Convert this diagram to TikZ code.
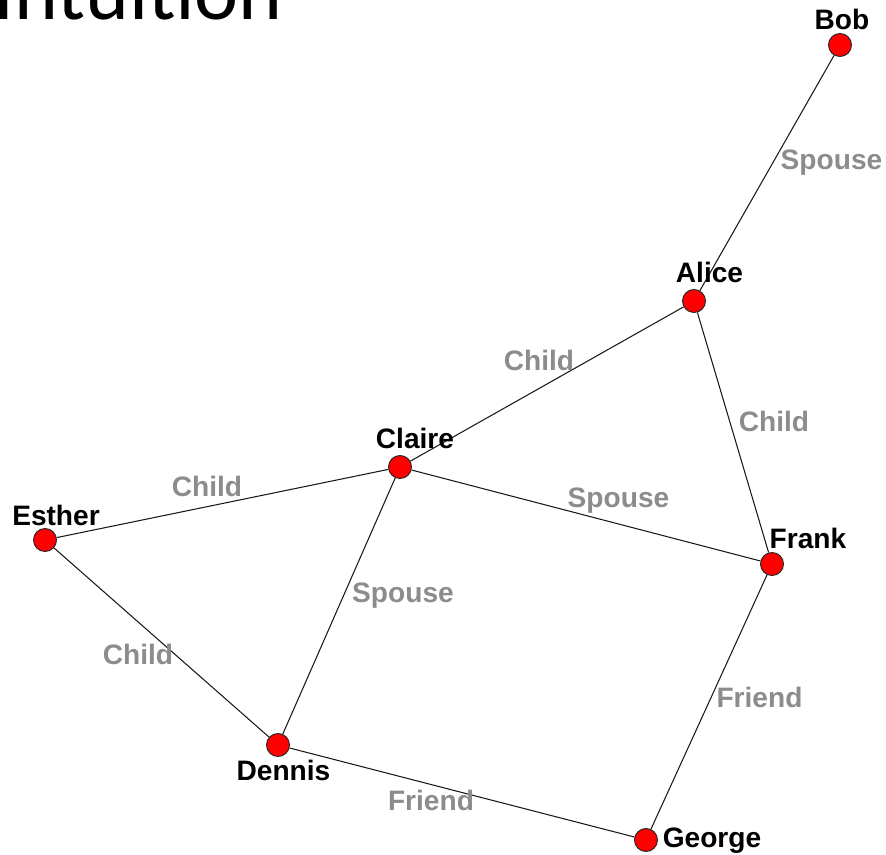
\documentclass[tikz,border=0pt]{standalone}
\usepackage{fontspec}
\setmainfont{Liberation Sans}
\newfontfamily\titlefont{Carlito}
\usetikzlibrary{positioning}

\definecolor{nodered}{RGB}{255,0,0}
\definecolor{relgray}{RGB}{140,140,140}

\begin{document}
\begin{tikzpicture}[x=0.02cm, y=-0.02cm,
    person/.style={circle, draw=black!85, fill=nodered, line width=0.55pt,
                   minimum size=0.46cm, inner sep=0pt},
    who/.style={font=\fontsize{16}{18}\selectfont\bfseries, anchor=base, inner sep=0pt},
    link/.style={line width=0.6pt, black!90},
    rel/.style={font=\fontsize{16}{18}\selectfont\bfseries, text=relgray,
                anchor=base, inner sep=0pt},
  ]
  \useasboundingbox (0,0) rectangle (886,855);

  % Title (cut off at the top)
  \begin{scope}
    \clip (0,0) rectangle (886,855);
    \node[font=\titlefont\fontsize{47.5}{50}\selectfont, anchor=base west, inner sep=0pt]
      (title) at (-7,20) {Intuition};
  \end{scope}

  % People
  \node[person] (bob) at (840, 45) {};
  \node[person] (alice) at (694, 301) {};
  \node[person] (claire) at (400, 467) {};
  \node[person] (esther) at (45, 540) {};
  \node[person] (frank) at (772, 564) {};
  \node[person] (dennis) at (278, 745) {};
  \node[person] (george) at (646, 840) {};

  % Links
  \draw[link] (bob) -- (alice);
  \draw[link] (alice) -- (claire);
  \draw[link] (alice) -- (frank);
  \draw[link] (esther) -- (claire);
  \draw[link] (claire) -- (frank);
  \draw[link] (claire) -- (dennis);
  \draw[link] (esther) -- (dennis);
  \draw[link] (frank) -- (george);
  \draw[link] (dennis) -- (george);

  % Names
  \node[who] (bobtxt) at (842, 30) {Bob};
  \node[who] (alicetxt) at (709.5, 282) {Alice};
  \node[who] (clairetxt) at (415, 448) {Claire};
  \node[who] (esthertxt) at (56, 525) {Esther};
  \node[who] (franktxt) at (808, 548) {Frank};
  \node[who] (dennistxt) at (283.5, 780) {Dennis};
  \node[who] (georgetxt) at (712, 847) {George};

  % Relations
  \node[rel] (rba) at (831.5, 170) {Spouse};
  \node[rel] (rac) at (539, 370) {Child};
  \node[rel] (raf) at (774, 431) {Child};
  \node[rel] (rec) at (207, 496) {Child};
  \node[rel] (rcf) at (618.5, 507) {Spouse};
  \node[rel] (rcd) at (403, 602) {Spouse};
  \node[rel] (red) at (138, 664) {Child};
  \node[rel] (rfg) at (759.5, 707) {Friend};
  \node[rel] (rdg) at (431, 810) {Friend};

\end{tikzpicture}
\end{document}
